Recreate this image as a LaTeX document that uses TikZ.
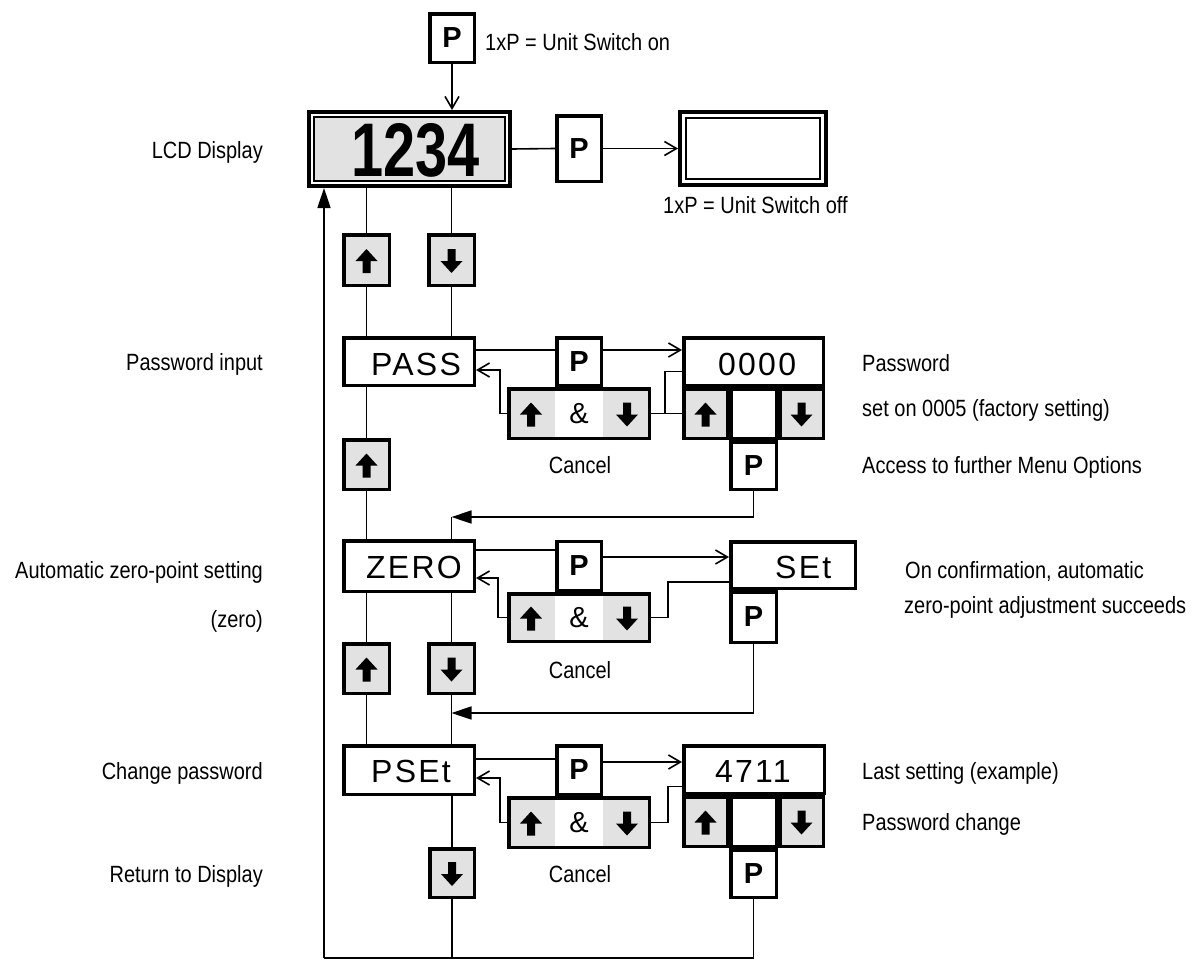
\documentclass[tikz,border=0pt]{standalone}
\usepackage{fontspec}
\setmainfont{Liberation Sans}
\newfontfamily\lab{Liberation Sans}[FakeStretch=0.85]
\newfontfamily\bignum{Liberation Sans}[FakeStretch=0.76]
\newfontfamily\dispf{Liberation Sans}[LetterSpace=7]
\usetikzlibrary{arrows.meta,calc}
\definecolor{keygray}{RGB}{226,226,226}
\tikzset{
  box/.style={draw, line width=3.5pt, rectangle, inner sep=0pt, fill=white},
  key/.style={box, font=\fontsize{29}{29}\selectfont\bfseries},
  gkey/.style={box, fill=keygray},
  cellfill/.style={fill=keygray, rectangle, inner sep=0pt, minimum width=48, minimum height=53},
  conn/.style={line width=1.6pt},
  openarr/.style={-{Straight Barb[length=12pt,width=14pt]}},
  solidarr/.style={-{Triangle[length=20pt,width=13pt]}},
  lbl/.style={font=\lab\fontsize{23.5}{26}\selectfont, inner sep=0pt},
  dtext/.style={font=\dispf\fontsize{32}{34}\selectfont, inner sep=0pt, anchor=base west},
  ampt/.style={font=\fontsize{29}{29}\selectfont, inner sep=0pt},
  uparr/.pic={\fill (-4,13) -- (-4,1) -- (-11,1) -- (0,-11) -- (11,1) -- (4,1) -- (4,13) -- cycle;},
  dnarr/.pic={\fill (-4,-11) -- (-4,1) -- (-11,1) -- (0,13) -- (11,1) -- (4,1) -- (4,-11) -- cycle;}
}
\begin{document}
\begin{tikzpicture}[x=1pt,y=-1pt]
\useasboundingbox (0,0) rectangle (1198,961);

% ---------- top ----------
\node[key, minimum width=44.5, minimum height=48.5] (pP0) at (452,38) {P};
\node[lbl, anchor=base west] (t0) at (485,50) {1xP = Unit Switch on};

\node[draw, line width=4pt, fill=white, minimum width=201, minimum height=74, inner sep=0pt] (lcd) at (409.5,149) {};
\node[draw, line width=2pt, fill=keygray, minimum width=191, minimum height=64, inner sep=0pt] (lcdin) at (lcd.center) {};
\node[font=\bignum\bfseries\fontsize{76}{76}\selectfont, anchor=base, inner sep=0pt] (num) at (415.5,176) {1234};
\node[lbl, anchor=base east] (llcd) at (263,158) {LCD Display};

\node[key, minimum width=44.5, minimum height=65.5] (pOff) at (579,148.5) {P};
\node[draw, line width=4pt, minimum width=146, minimum height=73, inner sep=0pt] (off) at (753,148.5) {};
\node[draw, line width=2pt, minimum width=134, minimum height=61, inner sep=0pt] (offin) at (off.center) {};
\node[lbl, anchor=base west] (toff) at (663,213) {1xP = Unit Switch off};

\draw[conn, openarr] (pP0.south) -- (pP0.south |- lcd.north);
\draw[conn] (lcd.east) -- (pOff.west);
\draw[conn, openarr] (pOff.east) -- (off.west);

% ---------- first buttons ----------
\node[gkey, minimum width=45.5, minimum height=50.5] (up1) at (366.5,260) {};
\pic at (up1) {uparr};
\node[gkey, minimum width=45.5, minimum height=50.5] (dn1) at (451.5,260) {};
\pic at (dn1) {dnarr};

% ---------- PASS row ----------
\node[box, minimum width=130.5, minimum height=47.5] (pass) at (409,361.5) {};
\node[dtext] (passt) at (371,375) {PASS};
\node[lbl, anchor=base east] (lpass) at (263,370.5) {Password input};

\node[cellfill] (a1l) at (531,413.5) {};
\node[cellfill] (a1r) at (627,413.5) {};
\node[draw, line width=3.5pt, minimum width=140.5, minimum height=49.5, inner sep=0pt] (amp1) at (579,413.5) {};
\pic at (a1l) {uparr};
\pic at (a1r) {dnarr};
\node[ampt] (amp1t) at (579,414) {\&};
\node[key, minimum width=44.5, minimum height=47.5] (pP1) at (579,361.5) {P};
\node[lbl, anchor=base] (c1) at (580,473) {Cancel};

\node[box, minimum width=139.5, minimum height=47.5] (d1) at (753.5,361.5) {};
\node[dtext] (d1t) at (718,375) {0000};
\node[gkey, minimum width=43.5, minimum height=49.5] (k1u) at (705.5,413.5) {};
\node[box, minimum width=45.5, minimum height=49.5] (k1m) at (753.5,413.5) {};
\node[gkey, minimum width=43.5, minimum height=49.5] (k1d) at (801.5,413.5) {};
\pic at (k1u) {uparr};
\pic at (k1d) {dnarr};
\node[key, minimum width=45.5, minimum height=47.5] (pP1b) at (753.5,465.5) {P};

\node[lbl, anchor=base west] (r1a) at (862,371.5) {Password};
\node[lbl, anchor=base west] (r1b) at (862,416.7) {set on 0005 (factory setting)};
\node[lbl, anchor=base west] (r1c) at (862,473) {Access to further Menu Options};

\draw[conn] (lcd.south -| up1.north) -- (up1.north);
\draw[conn] (lcd.south -| dn1.north) -- (dn1.north);
\draw[conn] (up1.south) -- (up1.south |- pass.north);
\draw[conn] (dn1.south) -- (dn1.south |- pass.north);

\draw[conn] ([yshift=11.5pt]pass.east) -- ([yshift=11.5pt]pP1.west);
\draw[conn, openarr] ([yshift=11.5pt]pP1.east) -- ([yshift=11.5pt]d1.west);
\draw[conn, openarr] (amp1.west) -- ++(-7,0) |- ([yshift=-8.5pt]pass.east);
\draw[conn] (amp1.east) -- (k1u.west);
\draw[conn] ([xshift=14pt]amp1.east) |- ([yshift=-10pt]d1.west);

% ---------- second up ----------
\node[gkey, minimum width=45.5, minimum height=49.5] (up2) at (366.5,464.5) {};
\pic at (up2) {uparr};
\draw[conn] (pass.south -| up2.north) -- (up2.north);

\coordinate (ret1) at (451.5,517);
\draw[conn, solidarr] (pP1b.south) |- (ret1);

% ---------- ZERO row ----------
\node[box, minimum width=130.5, minimum height=50.5] (zero) at (409,566) {};
\node[dtext] (zerot) at (366,578) {ZERO};
\node[lbl, anchor=base east] (lzero1) at (263,578) {Automatic zero-point setting};
\node[lbl, anchor=base east] (lzero2) at (263,627) {(zero)};

\draw[conn] (up2.south) -- (up2.south |- zero.north);
\draw[conn] (ret1) -- (ret1 |- zero.north);

\node[cellfill, minimum height=51] (a2l) at (531,617.5) {};
\node[cellfill, minimum height=51] (a2r) at (627,617.5) {};
\node[draw, line width=3.5pt, minimum width=140.5, minimum height=47.5, inner sep=0pt] (amp2) at (579,617.5) {};
\pic at (a2l) {uparr};
\pic at (a2r) {dnarr};
\node[ampt] (amp2t) at (579,618) {\&};
\node[key, minimum width=44.5, minimum height=49.5] (pP2) at (579,566) {P};
\node[lbl, anchor=base] (c2) at (580,678) {Cancel};

\node[box, minimum width=124.5, minimum height=46.5] (set) at (793,565) {};
\node[dtext] (sett) at (775,578) {SEt};
\node[key, minimum width=45.5, minimum height=50.5] (pP2b) at (753.5,617) {P};

\node[lbl, anchor=base west] (r2a) at (905,578) {On confirmation, automatic};
\node[lbl, anchor=base west] (r2b) at (904,613) {zero-point adjustment succeeds};

\draw[conn] ([yshift=16pt]zero.east) -- ([yshift=16pt]pP2.west);
\draw[conn, openarr] ([yshift=9pt]pP2.east) -- ([yshift=8pt]set.west);
\draw[conn, openarr] (amp2.west) -- ++(-9,0) |- ([yshift=-12pt]zero.east);
\draw[conn] (amp2.east) -- ++(17,0) |- ([yshift=-17pt]set.west);

% ---------- third buttons ----------
\node[gkey, minimum width=45.5, minimum height=49.5] (up3) at (366.5,668.5) {};
\pic at (up3) {uparr};
\node[gkey, minimum width=45.5, minimum height=49.5] (dn3) at (451.5,668.5) {};
\pic at (dn3) {dnarr};
\draw[conn] (zero.south -| up3.north) -- (up3.north);
\draw[conn] (zero.south -| dn3.north) -- (dn3.north);

\coordinate (ret2) at (451.5,713);
\draw[conn, solidarr] (pP2b.south) |- (ret2);

% ---------- PSEt row ----------
\node[box, minimum width=130.5, minimum height=48.5] (pset) at (409,770) {};
\node[dtext] (psett) at (371,782) {PSEt};
\node[lbl, anchor=base east] (lpset) at (263,779) {Change password};

\draw[conn] (up3.south) -- (up3.south |- pset.north);
\draw[conn] (dn3.south) -- (dn3.south |- pset.north);

\node[cellfill] (a3l) at (531,822.5) {};
\node[cellfill] (a3r) at (627,822.5) {};
\node[draw, line width=3.5pt, minimum width=140.5, minimum height=49.5, inner sep=0pt] (amp3) at (579,822.5) {};
\pic at (a3l) {uparr};
\pic at (a3r) {dnarr};
\node[ampt] (amp3t) at (579,823) {\&};
\node[key, minimum width=44.5, minimum height=48.5] (pP3) at (579,770) {P};
\node[lbl, anchor=base] (c3) at (580,882) {Cancel};

\node[box, minimum width=140.5, minimum height=47.5] (d3) at (754,769.5) {};
\node[dtext] (d3t) at (715,782) {4711};
\node[gkey, minimum width=43.5, minimum height=49.5] (k3u) at (705.5,821.5) {};
\node[box, minimum width=45.5, minimum height=49.5] (k3m) at (753.5,821.5) {};
\node[gkey, minimum width=43.5, minimum height=49.5] (k3d) at (801.5,821.5) {};
\pic at (k3u) {uparr};
\pic at (k3d) {dnarr};
\node[key, minimum width=45.5, minimum height=47.5] (pP3b) at (753.5,873.5) {P};

\node[lbl, anchor=base west] (r3a) at (862,779) {Last setting (example)};
\node[lbl, anchor=base west] (r3b) at (862,830) {Password change};

\draw[conn] ([yshift=11pt]pset.east) -- ([yshift=11pt]pP3.west);
\draw[conn, openarr] ([yshift=8pt]pP3.east) -- ([yshift=7.5pt]d3.west);
\draw[conn, openarr] (amp3.west) -- ++(-7,0) |- ([yshift=-8pt]pset.east);
\draw[conn] (amp3.east) -- ++(17,0) |- ([yshift=-17pt]d3.west);

% ---------- last down + return ----------
\node[gkey, minimum width=44.5, minimum height=48.5] (dn4) at (452,873) {};
\pic at (dn4) {dnarr};
\node[lbl, anchor=base east] (lret) at (263,882) {Return to Display};
\draw[conn] (pset.south -| dn4.north) -- (dn4.north);

\coordinate (bl) at (324,958);
\draw[conn] (dn4.south) -- (dn4.south |- bl);
\draw[conn] (pP3b.south) |- (bl);
\draw[conn, solidarr] (bl) -- (bl |- lcd.south);
\end{tikzpicture}
\end{document}
